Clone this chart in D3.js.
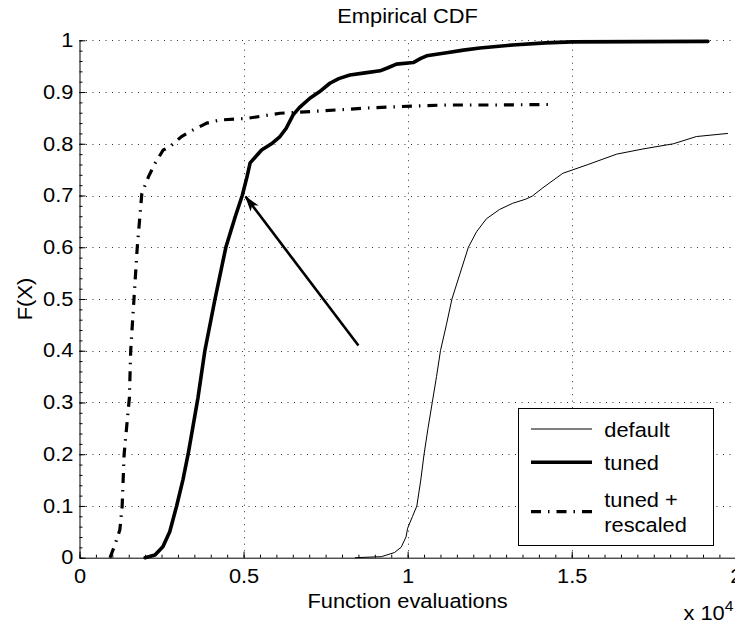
<!DOCTYPE html>
<html>
<head>
<meta charset="utf-8">
<script src="https://cdn.jsdelivr.net/npm/d3@7"></script>
<style>
  html, body { margin: 0; padding: 0; background: #fff; }
  svg { display: block; }
  text { font-family: "Liberation Sans", Arial, Helvetica, sans-serif; fill: #000; }
</style>
</head>
<body>
<svg id="chart" width="735" height="624"></svg>
<script>
// Empirical CDF curves: x in units of 10^4 function evaluations, F = cumulative fraction
const defaultX = [0.84, 0.92, 0.96, 0.98, 0.995, 1.0, 1.015, 1.028, 1.04, 1.05, 1.062, 1.075, 1.088, 1.10, 1.118, 1.135, 1.16, 1.185, 1.21, 1.24, 1.28, 1.32, 1.36, 1.38, 1.41, 1.473, 1.55, 1.637, 1.717, 1.81, 1.88, 1.976];
const defaultF = [0.0, 0.002, 0.01, 0.02, 0.04, 0.057, 0.08, 0.1, 0.15, 0.2, 0.25, 0.3, 0.35, 0.4, 0.45, 0.5, 0.55, 0.6, 0.63, 0.655, 0.673, 0.685, 0.693, 0.699, 0.714, 0.743, 0.76, 0.78, 0.79, 0.80, 0.814, 0.82];

const tunedX = [0.20, 0.23, 0.254, 0.275, 0.296, 0.315, 0.331, 0.361, 0.382, 0.413, 0.446, 0.475, 0.496, 0.51, 0.52, 0.555, 0.585, 0.611, 0.63, 0.651, 0.67, 0.702, 0.73, 0.763, 0.79, 0.824, 0.87, 0.916, 0.94, 0.966, 1.017, 1.04, 1.058, 1.119, 1.17, 1.22, 1.32, 1.42, 1.5, 1.915];
const tunedF = [0.0, 0.005, 0.021, 0.05, 0.1, 0.15, 0.2, 0.309, 0.4, 0.5, 0.6, 0.66, 0.7, 0.735, 0.763, 0.788, 0.80, 0.814, 0.83, 0.856, 0.87, 0.888, 0.90, 0.917, 0.926, 0.933, 0.937, 0.941, 0.947, 0.954, 0.957, 0.965, 0.970, 0.976, 0.981, 0.985, 0.991, 0.995, 0.997, 0.998];

const rescaledX = [0.093, 0.108, 0.123, 0.13, 0.136, 0.152, 0.156, 0.166, 0.176, 0.19, 0.21, 0.23, 0.255, 0.275, 0.311, 0.347, 0.388, 0.428, 0.51, 0.611, 0.723, 0.875, 1.017, 1.119, 1.271, 1.439];
const rescaledF = [0.0, 0.025, 0.054, 0.1, 0.2, 0.309, 0.4, 0.5, 0.6, 0.704, 0.736, 0.762, 0.788, 0.794, 0.814, 0.827, 0.84, 0.846, 0.849, 0.859, 0.863, 0.869, 0.873, 0.875, 0.875, 0.876];

const xTicks = [0, 0.5, 1, 1.5, 2];
const xTickLabels = ["0", "0.5", "1", "1.5", "2"];
const yTicks = [0, 0.1, 0.2, 0.3, 0.4, 0.5, 0.6, 0.7, 0.8, 0.9, 1];
const yTickLabels = ["0", "0.1", "0.2", "0.3", "0.4", "0.5", "0.6", "0.7", "0.8", "0.9", "1"];

const seriesNames = ["default", "tuned", "tuned +\nrescaled"];

// Annotation arrow, data coordinates
const arrowFrom = [0.85, 0.41];
const arrowTo = [0.506, 0.698];

const svg = d3.select("#chart");
const FS = 19.5;       // font size
const SX = 1.12;       // horizontal text stretch

const x = d3.scaleLinear().domain([0, 2]).range([79.5, 735.8]);
const y = d3.scaleLinear().domain([0, 1]).range([557.7, 40.3]);

function stretchedText(parent, px, py, str, anchor, rotate) {
  return parent.append("text")
    .attr("transform", `translate(${px},${py})` + (rotate ? ` rotate(${rotate})` : "") + ` scale(${SX},1)`)
    .attr("text-anchor", anchor)
    .style("font-size", FS + "px")
    .text(str);
}

// Dotted grid
const grid = svg.append("g").attr("stroke", "#333").attr("stroke-width", 1).attr("stroke-dasharray", "1,5.5");
grid.selectAll("line.gx").data(xTicks.slice(1)).join("line")
  .attr("x1", d => Math.round(x(d)) + 0.5).attr("x2", d => Math.round(x(d)) + 0.5)
  .attr("y1", y(0)).attr("y2", y(1));
grid.selectAll("line.gy").data(yTicks.slice(1)).join("line")
  .attr("y1", d => Math.round(y(d)) + 0.5).attr("y2", d => Math.round(y(d)) + 0.5)
  .attr("x1", x(0)).attr("x2", x(2));

// Minor ticks
const xMinor = d3.range(0, 2.0001, 0.05);
const yMinor = d3.range(0, 1.0001, 0.02);
svg.append("g").attr("transform", `translate(0,${y(0)})`)
  .call(d3.axisBottom(x).tickValues(xMinor).tickSize(-3).tickFormat(""))
  .call(g => g.select(".domain").remove());
svg.append("g").attr("transform", `translate(${x(0)},0)`)
  .call(d3.axisLeft(y).tickValues(yMinor).tickSize(-3).tickFormat(""))
  .call(g => g.select(".domain").remove());

// Major axes
const xAxis = svg.append("g").attr("transform", `translate(0,${y(0)})`)
  .call(d3.axisBottom(x).tickValues(xTicks).tickSize(-6).tickSizeOuter(0).tickPadding(11.6)
    .tickFormat((d, i) => xTickLabels[i]));
xAxis.selectAll("text").style("font-size", FS + "px").attr("transform", `scale(${SX},1)`);
const yAxis = svg.append("g").attr("transform", `translate(${x(0)},0)`)
  .call(d3.axisLeft(y).tickValues(yTicks).tickSize(-6).tickSizeOuter(0).tickPadding(5.4)
    .tickFormat((d, i) => yTickLabels[i]));
yAxis.selectAll("text").style("font-size", FS + "px").attr("transform", `scale(${SX},1)`);
svg.selectAll(".domain").attr("stroke", "#000");
svg.selectAll(".tick line").attr("stroke", "#000");

// Curves
const line = d3.line().x(d => x(d[0])).y(d => y(d[1]));
const zip = (a, b) => a.map((v, i) => [v, b[i]]);
const plot = svg.append("g").attr("fill", "none").attr("stroke", "#000");
plot.append("path").attr("d", line(zip(defaultX, defaultF))).attr("stroke-width", 1);
plot.append("path").attr("d", line(zip(tunedX, tunedF))).attr("stroke-width", 3.6)
  .attr("stroke-linejoin", "round").attr("stroke-linecap", "round");
plot.append("path").attr("d", line(zip(rescaledX, rescaledF))).attr("stroke-width", 3.2)
  .attr("stroke-dasharray", "10,7,1.5,7");

// Arrow annotation
const defs = svg.append("defs");
defs.append("marker").attr("id", "head").attr("viewBox", "0 -6 16 12")
  .attr("refX", 15).attr("refY", 0).attr("markerWidth", 16).attr("markerHeight", 12)
  .attr("markerUnits", "userSpaceOnUse").attr("orient", "auto")
  .append("path").attr("d", "M0,-5L16,0L0,5L4,0Z").attr("fill", "#000");
svg.append("line")
  .attr("x1", x(arrowFrom[0])).attr("y1", y(arrowFrom[1]))
  .attr("x2", x(arrowTo[0])).attr("y2", y(arrowTo[1]))
  .attr("stroke", "#000").attr("stroke-width", 2.6).attr("marker-end", "url(#head)");

// Title and axis labels
stretchedText(svg, 407.6, 22.7, "Empirical CDF", "middle");
stretchedText(svg, 407.6, 608.3, "Function evaluations", "middle");
stretchedText(svg, 31.7, 299, "F(X)", "middle", -90);
const mult = svg.append("text").attr("transform", `translate(683.5,620) scale(${SX},1)`)
  .style("font-size", FS + "px");
mult.append("tspan").text("x 10");
mult.append("tspan").attr("dy", -9).style("font-size", "14px").text("4");

// Legend
const lg = svg.append("g");
lg.append("rect").attr("x", 518.5).attr("y", 408.5).attr("width", 195).attr("height", 137)
  .attr("fill", "#fff").attr("stroke", "#000").attr("stroke-width", 1);
const legendItems = [
  { name: seriesNames[0], width: 1, dash: null, ly: 429 },
  { name: seriesNames[1], width: 3.6, dash: null, ly: 462.3 },
  { name: seriesNames[2], width: 3.2, dash: "10,7,1.5,7", ly: 511.7 }
];
legendItems.forEach(it => {
  lg.append("line").attr("x1", 531).attr("x2", 592).attr("y1", it.ly).attr("y2", it.ly)
    .attr("stroke", "#000").attr("stroke-width", it.width).attr("stroke-dasharray", it.dash);
  const parts = it.name.split("\n");
  const y0 = parts.length === 1 ? it.ly + 7.5 : it.ly - 5;
  parts.forEach((p, i) => stretchedText(lg, 604.3, y0 + i * 25, p, "start"));
});
</script>
</body>
</html>
